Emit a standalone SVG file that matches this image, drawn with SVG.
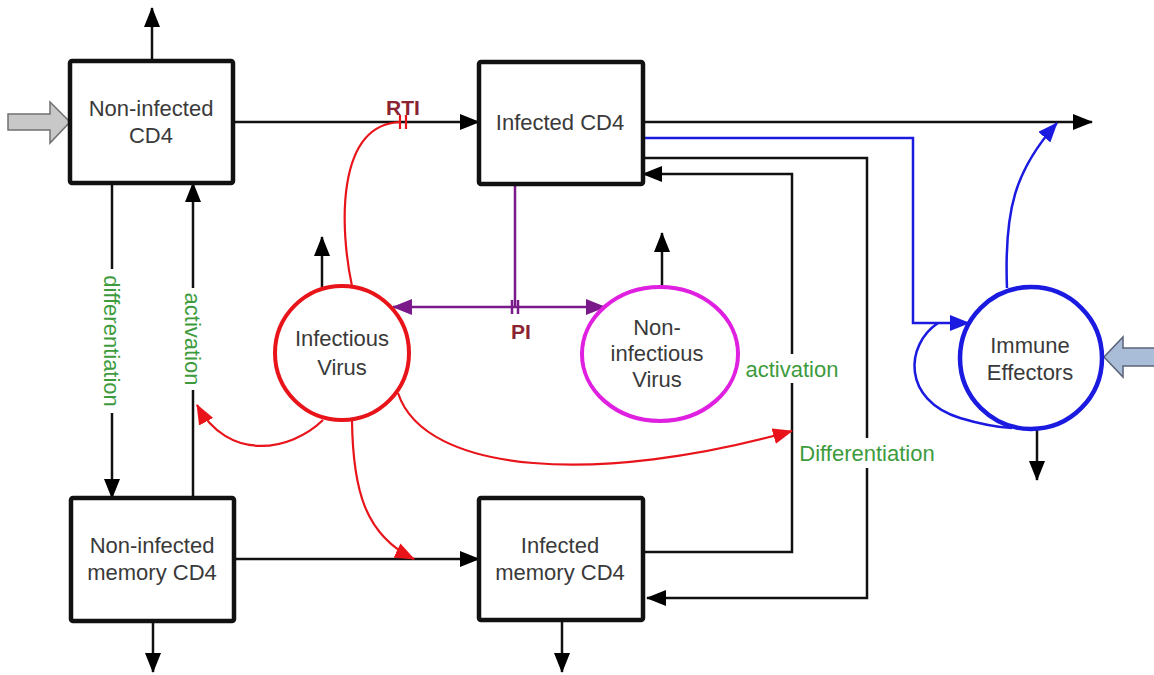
<svg xmlns="http://www.w3.org/2000/svg" width="1154" height="675" viewBox="0 0 1154 675">
<style>
.box{fill:#fff;stroke:#111;stroke-width:4.5}
.t{font-family:"Liberation Sans",Arial,sans-serif;font-size:22px;fill:#3a3a3a;text-anchor:middle}
.g{font-family:"Liberation Sans",Arial,sans-serif;font-size:22px;fill:#3d9b3d;text-anchor:middle}
.r{font-family:"Liberation Sans",Arial,sans-serif;font-size:21px;font-weight:bold;fill:#8b2332;text-anchor:middle}
.k{fill:none;stroke:#111;stroke-width:2.5}
.rd{fill:none;stroke:#e8141a;stroke-width:2.2}
.bl{fill:none;stroke:#1a1ae0;stroke-width:2.5}
.pu{fill:none;stroke:#7a1a8a;stroke-width:2.5}
.bg{fill:#fff}
</style>
<defs>
<marker id="ak" markerUnits="userSpaceOnUse" markerWidth="20" markerHeight="16" refX="19" refY="8" orient="auto"><path d="M0,0 L20,8 L0,16 z" fill="#000"/></marker>
<marker id="ar" markerUnits="userSpaceOnUse" markerWidth="20" markerHeight="16" refX="19" refY="8" orient="auto"><path d="M0,0 L20,8 L0,16 z" fill="#e8141a"/></marker>
<marker id="ab" markerUnits="userSpaceOnUse" markerWidth="20" markerHeight="16" refX="19" refY="8" orient="auto"><path d="M0,0 L20,8 L0,16 z" fill="#1a1ae0"/></marker>
<marker id="ap" markerUnits="userSpaceOnUse" markerWidth="20" markerHeight="16" refX="19" refY="8" orient="auto"><path d="M0,0 L20,8 L0,16 z" fill="#7a1a8a"/></marker>
</defs>
<rect width="1154" height="675" fill="#fff"/>

<g id="connectors">
  <!-- outflows -->
  <line class="k" x1="152" y1="61" x2="152" y2="8" marker-end="url(#ak)"/>
  <line class="k" x1="153" y1="621" x2="153" y2="672" marker-end="url(#ak)"/>
  <line class="k" x1="562" y1="620" x2="562" y2="672" marker-end="url(#ak)"/>
  <line class="k" x1="322" y1="287" x2="322" y2="237" marker-end="url(#ak)"/>
  <line class="k" x1="662" y1="287" x2="662" y2="233" marker-end="url(#ak)"/>
  <line class="k" x1="1037" y1="430" x2="1037" y2="480" marker-end="url(#ak)"/>
  <line class="k" x1="643" y1="122" x2="1092" y2="122" marker-end="url(#ak)"/>
  <!-- CD4 transitions -->
  <line class="k" x1="233" y1="122" x2="479" y2="122" marker-end="url(#ak)"/>
  <line class="k" x1="112" y1="183" x2="112" y2="498" marker-end="url(#ak)"/>
  <line class="k" x1="193" y1="498" x2="193" y2="183" marker-end="url(#ak)"/>
  <line class="k" x1="234" y1="559" x2="479" y2="559" marker-end="url(#ak)"/>
  <polyline class="k" points="643,552 792,552 792,174 643,174" marker-end="url(#ak)"/>
  <polyline class="k" points="643,158 867,158 867,598 647,598" marker-end="url(#ak)"/>
  <!-- immune -->
  <polyline class="bl" points="643,138 913,138 913,323 969,323" marker-end="url(#ab)"/>
  <path class="bl" stroke-width="2" d="M938,323 C905,345 902,400 960,418 Q990,427 1012,428"/>
  <path class="bl" d="M1007,288 C1004,210 1015,170 1057,123" marker-end="url(#ab)"/>
  <!-- PI -->
  <line class="pu" x1="515" y1="184" x2="515" y2="307"/>
  <line class="pu" x1="515" y1="307" x2="393" y2="307" marker-end="url(#ap)"/>
  <line class="pu" x1="515" y1="307" x2="605" y2="307" marker-end="url(#ap)"/>
  <line class="pu" stroke-width="2" x1="512" y1="300" x2="512" y2="314"/>
  <line class="pu" stroke-width="2" x1="518" y1="300" x2="518" y2="314"/>
  <!-- virus effects -->
  <path class="rd" d="M352,286 C340,230 335,125 400,122"/>
  <line class="rd" stroke-width="2" x1="400" y1="115" x2="400" y2="129"/>
  <line class="rd" stroke-width="2" x1="406" y1="115" x2="406" y2="129"/>
  <path class="rd" d="M323,420 C290,452 228,462 197,405" marker-end="url(#ar)"/>
  <path class="rd" d="M352,421 C353,490 365,535 414,559" marker-end="url(#ar)"/>
  <path class="rd" d="M398,393 C425,475 600,485 792,431" marker-end="url(#ar)"/>
  <!-- inflow block arrows -->
  <path d="M8,114 L50,114 L50,102 L70,122 L50,143 L50,130 L8,130 z" fill="#c8c8c8" stroke="#707070" stroke-width="1.5"/>
  <path d="M1154,348 L1123,348 L1123,337 L1104,357 L1123,377 L1123,366 L1154,366" fill="#a9bcd8" stroke="#5a6478" stroke-width="1.5"/>
</g>

<g id="labels">
  <text class="r" x="403" y="115">RTI</text>
  <text class="r" x="521" y="339">PI</text>
  <rect class="bg" x="743" y="354" width="98" height="29"/>
  <text class="g" x="792" y="377">activation</text>
  <rect class="bg" x="795" y="438" width="144" height="30"/>
  <text class="g" x="867" y="461">Differentiation</text>
  <g transform="translate(112,341) rotate(90)">
    <rect class="bg" x="-72" y="-11" width="144" height="22"/>
    <text class="g" x="0" y="8">differentiation</text>
  </g>
  <g transform="translate(193,339) rotate(90)">
    <rect class="bg" x="-51" y="-11" width="102" height="22"/>
    <text class="g" x="0" y="8">activation</text>
  </g>
</g>

<g id="non-infected-cd4">
  <rect class="box" x="70" y="61" width="163" height="122" rx="2"/>
  <text class="t" x="151" y="116">Non-infected</text>
  <text class="t" x="151" y="143">CD4</text>
</g>
<g id="infected-cd4">
  <rect class="box" x="479" y="62" width="164" height="122" rx="2"/>
  <text class="t" x="560" y="130">Infected CD4</text>
</g>
<g id="non-infected-memory-cd4">
  <rect class="box" x="71" y="498" width="163" height="123" rx="2"/>
  <text class="t" x="152" y="553">Non-infected</text>
  <text class="t" x="152" y="580">memory CD4</text>
</g>
<g id="infected-memory-cd4">
  <rect class="box" x="479" y="498" width="164" height="122" rx="2"/>
  <text class="t" x="560" y="553">Infected</text>
  <text class="t" x="560" y="580">memory CD4</text>
</g>
<g id="infectious-virus">
  <circle cx="342" cy="353" r="67" fill="#fff" stroke="#e8141a" stroke-width="4"/>
  <text class="t" x="342" y="346">Infectious</text>
  <text class="t" x="342" y="375">Virus</text>
</g>
<g id="non-infectious-virus">
  <ellipse cx="660" cy="354" rx="78" ry="67" fill="#fff" stroke="#e020e0" stroke-width="4"/>
  <text class="t" x="657" y="335">Non-</text>
  <text class="t" x="657" y="361">infectious</text>
  <text class="t" x="657" y="387">Virus</text>
</g>
<g id="immune-effectors">
  <circle cx="1031" cy="358" r="71" fill="#fff" stroke="#1a1ae0" stroke-width="4.5"/>
  <text class="t" x="1030" y="353">Immune</text>
  <text class="t" x="1030" y="380">Effectors</text>
</g>
</svg>
